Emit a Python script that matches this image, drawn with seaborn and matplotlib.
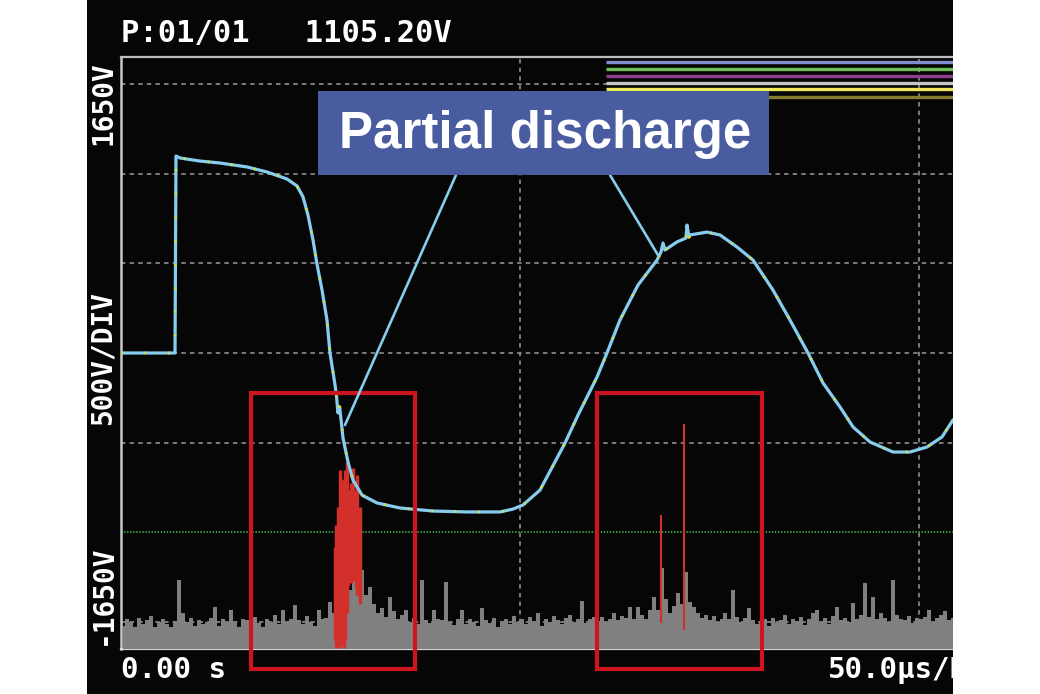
import numpy as np
import matplotlib
matplotlib.use("Agg")
import matplotlib.pyplot as plt
import seaborn as sns
from matplotlib.patches import Rectangle

# ---------------- data (time in microseconds, voltage in volts) ----------------
wave_t = [0.0, 6.77, 6.89, 7.39, 9.90, 12.41, 15.79, 18.30, 20.80, 22.06, 22.81,
          23.43, 24.06, 24.56, 25.19, 25.81, 26.19, 26.82, 27.00, 27.19, 27.40,
          27.82, 28.45, 29.07, 30.20, 32.08, 34.96, 39.10, 43.36, 47.49, 49.12,
          50.38, 52.51, 53.51, 55.64, 57.27, 59.65, 60.90, 62.53, 64.79, 67.17,
          67.67, 67.92, 68.17, 69.67, 70.80, 70.93, 71.18, 71.30, 73.43, 75.06,
          77.19, 79.20, 81.70, 83.83, 86.09, 87.97, 90.10, 91.73, 93.86, 96.74,
          98.87, 101.00, 102.88, 104.26]
wave_v = [0, 0, 1098, 1087, 1070, 1059, 1037, 1009, 970, 931, 870,
          769, 630, 496, 351, 184, 0, -178, -240, -334, -300,
          -474, -608, -708, -792, -836, -864, -881, -886, -886, -870,
          -847, -764, -680, -502, -346, -134, 0, 184, 379, 518,
          563, 613, 574, 619, 641, 713, 646, 658, 674, 658,
          591, 518, 351, 184, 0, -167, -301, -412, -496, -552,
          -552, -524, -468, -373]

# noise envelope height above the -1650 V floor, one value per 0.5 us
noise_height = [
    130, 165, 150, 120, 175, 140, 160, 185, 125, 150, 170, 140, 120, 155, 385, 200, 150, 175, 130, 160,
    140, 150, 175, 234, 130, 165, 145, 217, 150, 125, 170, 160, 135, 180, 145, 120, 165, 150, 190, 140,
    217, 150, 170, 245, 160, 140, 185, 150, 130, 217, 165, 175, 262, 200, 240, 270, 250, 330, 390, 400,
    440, 300, 345, 250, 200, 230, 180, 290, 210, 165, 190, 217, 150, 175, 140, 385, 160, 145, 217, 170,
    160, 374, 150, 135, 170, 217, 140, 165, 150, 130, 228, 160, 145, 175, 120, 155, 170, 140, 185, 150,
    165, 140, 180, 155, 200, 130, 170, 150, 185, 160, 140, 175, 190, 150, 165, 265, 145, 170, 180, 155,
    180, 150, 170, 200, 160, 185, 175, 235, 165, 235, 190, 170, 215, 290, 220, 450, 280, 200, 240, 310,
    250, 430, 260, 235, 200, 175, 190, 160, 185, 150, 170, 200, 165, 330, 180, 150, 175, 228, 160, 140,
    150, 165, 130, 175, 145, 160, 190, 140, 170, 155, 180, 135, 165, 200, 217, 150, 175, 140, 185, 235,
    160, 175, 150, 255, 170, 190, 367, 180, 290, 165, 200, 175, 150, 385, 190, 170, 160, 185, 145, 175,
    165, 180, 217, 150, 175, 190, 210, 160, 175]
noise_step = 0.5

# partial-discharge pulses
pd1_t = [26.8, 27.0, 27.2, 27.4, 27.6, 27.9, 28.1, 28.3, 28.5, 28.8, 29.1, 29.4, 29.6, 29.9]
pd1_top = [-1080, -960, -860, -652, -700, -708, -650, -608, -764, -725, -641, -764, -680, -858]
pd1_bot = [-1600, -1640, -1645, -1640, -1620, -1645, -1600, -1450, -1300, -1280, -1270, -1300, -1350, -1400]
pd2_t = [67.67, 70.55]
pd2_top = [-903, -396]
pd2_bot = [-1505, -1544]

# highlight boxes (time span) and their voltage span
box_spans = [(16.3, 36.8), (59.6, 80.3)]
box_v = (-225, -1760)

# channel indicator bars at the top right
bar_levels = [1620, 1583, 1546, 1507, 1470, 1429]
bar_colors = ["#7f8fd2", "#6cbf58", "#8e3f8c", "#c4c4c4", "#eee85a", "#857d2e"]
bar_start = 60.8

grid_v = [-1500, -500, 0, 500, 1000, 1500]
grid_t = [50, 100]
trigger_v = -1000

# annotation pointers: (from box, to waveform)
pointer_from = [(41.98, 992), (61.28, 992)]
pointer_to = [(28.07, -401), (67.29, 546)]

header = "P:01/01   1105.20V"
y_top_label = "1650V"
y_div_label = "500V/DIV"
y_bot_label = "-1650V"
x_left_label = "0.00 s"
x_div_label = "50.0\u00b5s/DIV"
callout = "Partial discharge"

T_MAX = 104.26
V_MIN, V_MAX = -1650, 1650

# ---------------- drawing ----------------
sns.set_theme(style="dark")
plt.rcParams["lines.scale_dashes"] = False
plt.rcParams["font.family"] = ["DejaVu Sans Mono", "DejaVu Sans"]

W, H = 1040, 694
fig = plt.figure(figsize=(W / 100, H / 100), dpi=100, facecolor="white")
fig.add_artist(Rectangle((87 / W, 0), (953 - 87) / W, 1, transform=fig.transFigure,
                         facecolor="#060606", edgecolor="none", zorder=0))

ax = fig.add_axes([121 / W, 45 / H, (953 - 121) / W, (649 - 57) / H])
ax.set_facecolor("#060606")
ax.set_xlim(0, T_MAX)
ax.set_ylim(V_MIN, V_MAX)
ax.set_xticks([])
ax.set_yticks([])
ax.set_xlabel("")
ax.set_ylabel("")
ax.grid(False)
for side in ["top", "left", "bottom"]:
    ax.spines[side].set_visible(True)
ax.spines["right"].set_visible(False)
ax.spines["top"].set_color("#bdbdbd")
ax.spines["top"].set_linewidth(1.6)
ax.spines["left"].set_color("#c8c8c8")
ax.spines["left"].set_linewidth(1.8)
ax.spines["bottom"].set_color("#d8d8d8")
ax.spines["bottom"].set_linewidth(1.6)

# grid
for v in grid_v:
    ax.axhline(v, color="#858585", lw=1.3, dashes=(3.2, 3.0), zorder=1)
for t in grid_t:
    ax.axvline(t, color="#858585", lw=1.3, dashes=(3.2, 3.0), zorder=1)
ax.axhline(trigger_v, color="#3aa040", lw=1.4, dashes=(1.0, 1.2), zorder=1.5)

# indicator bars
ax.hlines(bar_levels, bar_start, T_MAX, colors=bar_colors, lw=2.4, zorder=2)

# noise
noise_t = np.arange(len(noise_height)) * noise_step + noise_step / 2
noise_top = V_MIN + np.array(noise_height, dtype=float)
ax.fill_between(noise_t, V_MIN, noise_top, step="mid", color="#808080", lw=0, zorder=3)

# discharge pulses
ax.vlines(pd1_t, pd1_bot, pd1_top, colors="#d3302c", lw=2.5, zorder=4)
ax.vlines(pd2_t, pd2_bot, pd2_top, colors="#d3302c", lw=1.5, zorder=4)

# waveform
sns.lineplot(x=wave_t, y=wave_v, ax=ax, sort=False, estimator=None,
             color="#86cdef", lw=2.3, zorder=6)
ax.plot(wave_t, wave_v, color="#f2e600", lw=2.0, dashes=(1.0, 16.0), zorder=6.5)

# highlight boxes
for t0, t1 in box_spans:
    ax.add_patch(Rectangle((t0, box_v[1]), t1 - t0, box_v[0] - box_v[1], fill=False,
                           edgecolor="#cc1520", lw=3.0, clip_on=False, zorder=7))

# callout box and pointers
for (x0, y0), (x1, y1) in zip(pointer_from, pointer_to):
    ax.plot([x0, x1], [y0, y1], color="#86cdef", lw=1.9, zorder=7)
fig.add_artist(Rectangle((318 / W, 1 - 175 / H), (769 - 318) / W, (175 - 91) / H,
                         transform=fig.transFigure, facecolor="#4a5ca0",
                         edgecolor="none", zorder=8))
fig.text(545 / W, 1 - 148 / H, callout, ha="center", va="baseline", color="white",
         fontsize=36.8, fontweight="bold", family=["Liberation Sans", "DejaVu Sans"], zorder=9)

# screen texts
mono = ["DejaVu Sans Mono", "DejaVu Sans"]
fig.text(121 / W, 1 - 42 / H, header, ha="left", va="baseline", color="white",
         fontsize=22, fontweight="bold", family=mono, zorder=5)
fig.text(103 / W, 1 - 103 / H, y_top_label, ha="center", va="center", rotation=90,
         color="white", fontsize=20, fontweight="bold", family=mono, zorder=5)
fig.text(103 / W, 1 - 358 / H, y_div_label, ha="center", va="center", rotation=90,
         color="white", fontsize=20, fontweight="bold", family=mono, zorder=5)
fig.text(103 / W, 1 - 595 / H, y_bot_label, ha="center", va="center", rotation=90,
         color="white", fontsize=20, fontweight="bold", family=mono, zorder=5)
fig.text(121 / W, 1 - 678 / H, x_left_label, ha="left", va="baseline", color="white",
         fontsize=21, fontweight="bold", family=mono, zorder=5)
fig.text(828 / W, 1 - 678 / H, x_div_label, ha="left", va="baseline", color="white",
         fontsize=21, fontweight="bold", family=mono, zorder=5)

# white page margin on the right (crops the screen)
fig.add_artist(Rectangle((953 / W, 0), (W - 953) / W, 1, transform=fig.transFigure,
                         facecolor="white", edgecolor="none", zorder=20))

fig.savefig("out.png", dpi=100, facecolor="white")
